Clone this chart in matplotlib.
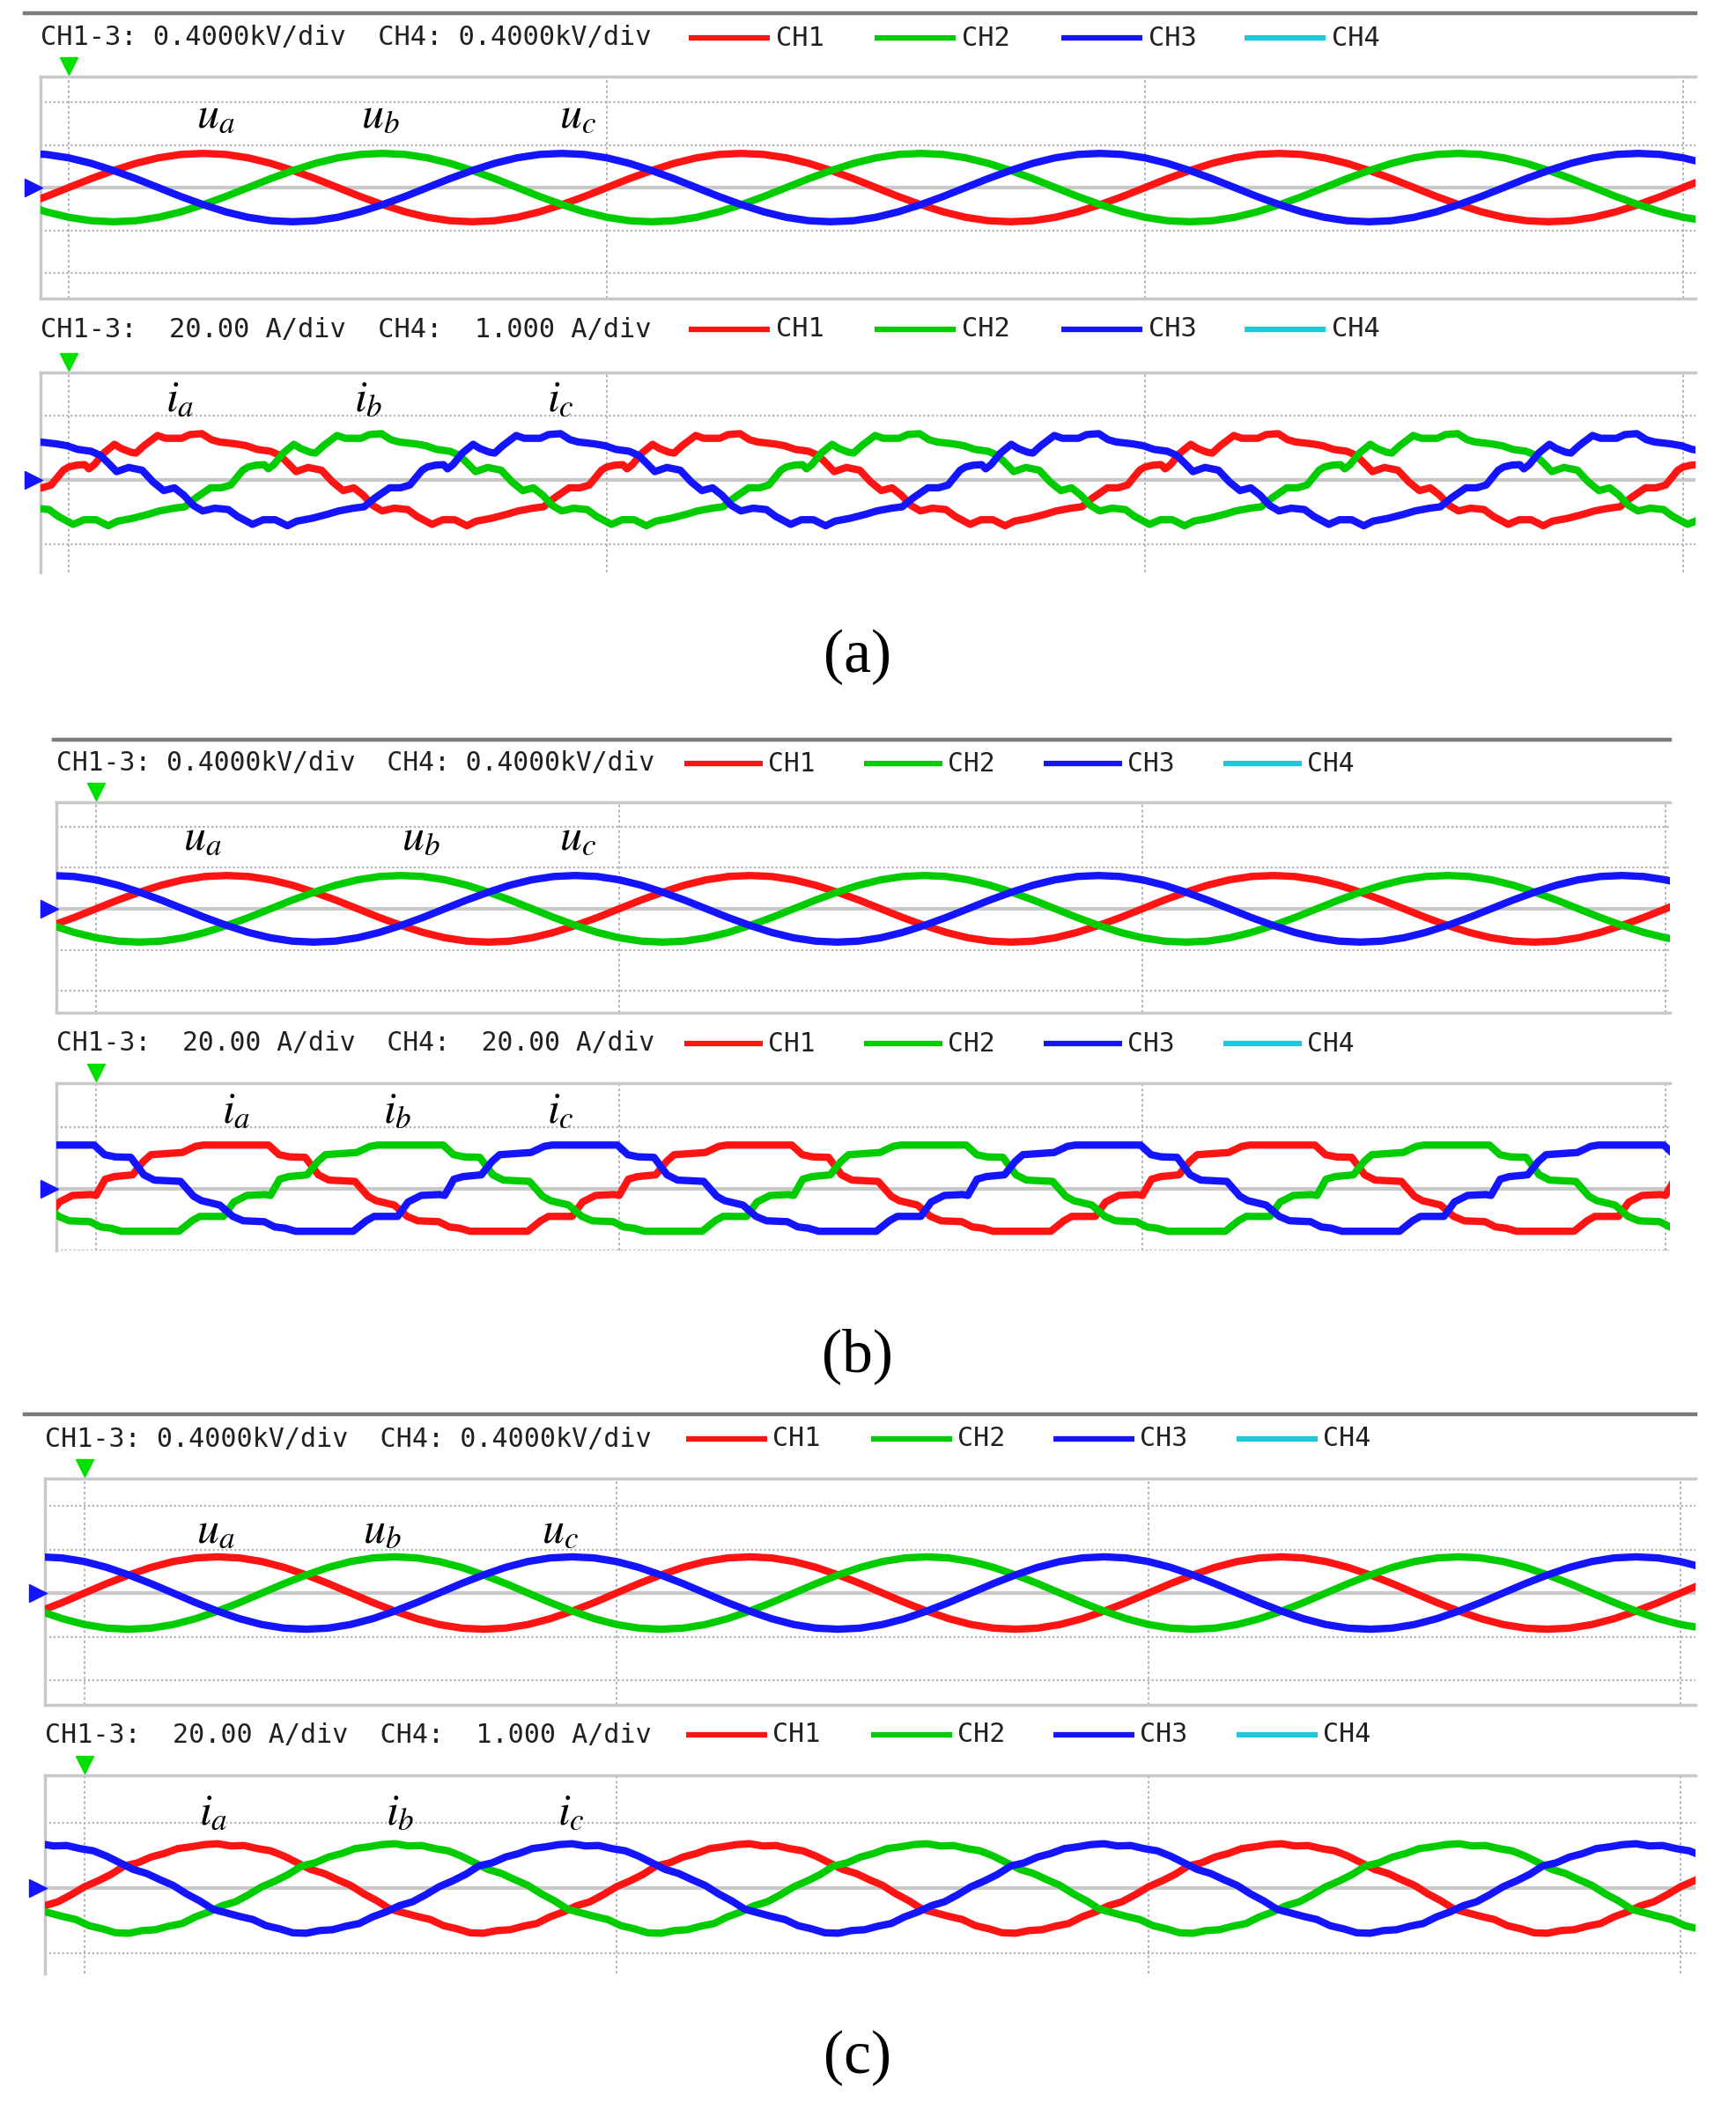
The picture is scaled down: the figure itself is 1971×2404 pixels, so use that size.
import numpy as np
import matplotlib
matplotlib.use("Agg")
import matplotlib.pyplot as plt

W, H = 1971, 2404

period_ms = 20.0
phase_delay = [0.0, 6.67, 13.33]          # a, b, c  (ms)
phase_colors = ['#ff1414', '#00cc00', '#1414ff']
ch4_color = '#20c8dc'

# phase voltage, one period, fraction of its peak
u_t = [0.0, 0.83, 1.67, 2.5, 3.33, 4.17, 5.0, 5.83, 6.67, 7.5, 8.33, 9.17,
       10.0, 10.83, 11.67, 12.5, 13.33, 14.17, 15.0, 15.83, 16.67, 17.5, 18.33, 19.17]
u_v = [0.00, 0.26, 0.50, 0.71, 0.87, 0.97, 1.00, 0.97, 0.87, 0.71, 0.50, 0.26,
       0.00, -0.26, -0.50, -0.71, -0.87, -0.97, -1.00, -0.97, -0.87, -0.71, -0.50, -0.26]
u_amp = [0.80, 0.81, 0.83]                # peak in divisions, screens a, b, c

# phase current (a), one period, fraction of peak
ia_a_t = [0.0, 0.3, 0.6, 0.75, 0.95, 1.3, 1.7, 1.95, 2.3, 2.5, 2.8, 3.3, 3.6, 4.2, 4.5,
          4.95, 5.3, 5.6, 6.2, 6.6, 7.0, 7.5, 7.85, 8.15, 8.45, 8.9, 9.4, 9.8, 10.2, 10.6,
          10.95, 11.3, 11.65, 12.1, 12.6, 12.95, 13.5, 13.9, 14.35, 14.8, 15.15, 15.7,
          16.3, 16.7, 17.25, 17.65, 18.05, 18.6, 19.0, 19.35, 19.8]
ia_a_v = [0.28, 0.32, 0.33, 0.24, 0.33, 0.58, 0.77, 0.68, 0.60, 0.58, 0.74, 0.96, 0.90, 0.90, 0.98,
          1.00, 0.87, 0.82, 0.78, 0.74, 0.66, 0.62, 0.53, 0.36, 0.18, 0.27, 0.21, -0.04, -0.23, -0.17,
          -0.33, -0.55, -0.67, -0.61, -0.64, -0.79, -0.96, -0.86, -0.86, -0.99, -0.89, -0.83,
          -0.74, -0.67, -0.61, -0.58, -0.39, -0.17, -0.17, -0.11, 0.21]

# phase current (b)
ia_b_t = [0.0, 0.35, 0.7, 1.4, 1.8, 2.1, 3.3, 3.8, 4.1, 6.6, 7.0, 7.4, 8.0, 8.5, 8.9, 9.9,
          10.4, 10.7, 11.4, 11.9, 12.3, 13.1, 13.5, 13.9, 14.3, 16.5, 17.0, 17.3, 18.2, 18.6,
          19.1, 19.8]
ia_b_v = [-0.15, 0.22, 0.28, 0.32, 0.62, 0.78, 0.83, 0.97, 1.0, 1.0, 0.78, 0.73, 0.72, 0.32, 0.2, 0.17,
          -0.17, -0.27, -0.37, -0.63, -0.73, -0.75, -0.87, -0.9, -0.97, -0.97, -0.73, -0.63, -0.63, -0.3,
          -0.15, -0.13]

# phase current (c)
ia_c_t = [0.0, 0.5, 1.0, 1.5, 2.0, 2.5, 3.0, 3.5, 4.0, 4.5, 5.0, 5.5, 6.0, 6.5, 7.0, 7.5, 8.0,
          8.5, 9.0, 9.5, 10.0, 10.5, 11.0, 11.5, 12.0, 12.5, 13.0, 13.5, 14.0, 14.5, 15.0, 15.5,
          16.0, 16.5, 17.0, 17.5, 18.0, 18.5, 19.0, 19.5]
ia_c_v = [0.03, 0.16, 0.31, 0.50, 0.57, 0.70, 0.78, 0.89, 0.93, 0.98, 1.00, 0.95, 0.96, 0.89, 0.84,
          0.72, 0.57, 0.42, 0.33, 0.19, 0.06, -0.13, -0.29, -0.48, -0.56, -0.64, -0.71, -0.85,
          -0.92, -1.01, -1.02, -0.96, -0.94, -0.86, -0.80, -0.65, -0.54, -0.40, -0.31, -0.15]
i_amp = [0.72, 0.71, 0.68]

i_shapes = [(ia_a_t, ia_a_v), (ia_b_t, ia_b_v), (ia_c_t, ia_c_v)]

captions = ['(a)', '(b)', '(c)']
u_header = 'CH1-3: 0.4000kV/div  CH4: 0.4000kV/div'
i_headers = ['CH1-3:  20.00 A/div  CH4:  1.000 A/div',
             'CH1-3:  20.00 A/div  CH4:  20.00 A/div',
             'CH1-3:  20.00 A/div  CH4:  1.000 A/div']
legend_names = ['CH1', 'CH2', 'CH3', 'CH4']
u_labels = [r'$u_a$', r'$u_b$', r'$u_c$']
i_labels = [r'$i_a$', r'$i_b$', r'$i_c$']

# ---------------- layout (pixels of the 1971x2404 picture) ----------------
screens = [
    dict(line=(15, 28, 1925), text_x=46, fs=21.9, leg_x=[782, 993, 1205, 1413], leg_len=92, leg_dx=99,
         trig=78, pxms=30.55, x0=46, x1=1925,
         up=dict(hy=43, y0=87, y1=339, c=213, div=48.5),
         lo=dict(hy=374, y0=423, y1=650, c=545, div=73),
         ulab=[(245, 130), (432, 130), (656, 130)], ilab=[(204, 452), (418, 452), (636, 452)],
         cap_y=746),
    dict(line=(840, 61, 1896), text_x=64, fs=21.3, leg_x=[777, 981, 1185, 1389], leg_len=89, leg_dx=95,
         trig=109, pxms=29.7, x0=64, x1=1896,
         up=dict(hy=867, y0=911, y1=1150, c=1032, div=46.7),
         lo=dict(hy=1185, y0=1230, y1=1420, c=1350, div=70),
         ulab=[(230, 950), (478, 950), (656, 950)], ilab=[(268, 1260), (451, 1260), (636, 1260)],
         cap_y=1540),
    dict(line=(1606, 28, 1925), text_x=51, fs=21.6, leg_x=[779, 989, 1196, 1404], leg_len=92, leg_dx=98,
         trig=96, pxms=30.2, x0=51, x1=1925,
         up=dict(hy=1634, y0=1679, y1=1936, c=1809, div=49.5),
         lo=dict(hy=1970, y0=2016, y1=2241, c=2144, div=74),
         ulab=[(245, 1737), (434, 1737), (636, 1737)], ilab=[(242, 2057), (454, 2057), (648, 2057)],
         cap_y=2337),
]

GRID = '#b4b4b4'
FRAME = '#c8c8c8'
MONO = 'DejaVu Sans Mono'
plt.rcParams['mathtext.fontset'] = 'stix'


def periodic(t_pts, v_pts, delay, t_lo, t_hi):
    t_pts = np.asarray(t_pts, dtype=float)
    v_pts = np.asarray(v_pts, dtype=float)
    k0 = int(np.floor((t_lo - delay) / period_ms)) - 1
    k1 = int(np.ceil((t_hi - delay) / period_ms)) + 1
    ks = range(k0, k1 + 1)
    tt = np.concatenate([t_pts + delay + k * period_ms for k in ks])
    vv = np.tile(v_pts, len(ks))
    return tt, vv


def panel(fig, s, p, shape, amp, has_bottom):
    x0, x1 = s['x0'], s['x1']
    y0, y1 = p['y0'], p['y1']
    ax = fig.add_axes([x0 / W, 1 - y1 / H, (x1 - x0) / W, (y1 - y0) / H])
    t_lo = (x0 - s['trig']) / s['pxms']
    t_hi = (x1 - s['trig']) / s['pxms']
    y_top = (p['c'] - y0) / p['div']
    y_bot = -(y1 - p['c']) / p['div']
    ax.set_xlim(t_lo, t_hi)
    ax.set_ylim(y_bot, y_top)
    ax.set_xticks([])
    ax.set_yticks([])
    ax.spines['right'].set_visible(False)
    ax.spines['bottom'].set_visible(has_bottom)
    for side in ['top', 'left', 'bottom']:
        ax.spines[side].set_color(FRAME)
        ax.spines[side].set_linewidth(2.5)

    ax.axhline(0, color=FRAME, lw=3, zorder=1)
    for k in [-2, -1, 1, 2]:
        ax.axhline(k, color=GRID, lw=1.6, ls=(0, (1, 1.2)), zorder=1)
    for tv in [0, 20, 40, 60]:
        ax.axvline(tv, color=GRID, lw=1.4, ls=(0, (1.5, 1.5)), zorder=1)

    for delay, col in zip(phase_delay, phase_colors):
        tt, vv = periodic(shape[0], shape[1], delay, t_lo, t_hi)
        ax.plot(tt, amp * vv, color=col, lw=6.0, zorder=3)

    # channel ground marker and trigger marker
    ax.plot([t_lo - 8 / s['pxms']], [0], marker='>', ms=15, color='#1414ff',
            clip_on=False, zorder=5)
    ax.plot([0], [y_top + 12 / p['div']], marker='v', ms=15, color='#00e000',
            clip_on=False, zorder=5)
    return ax


fig = plt.figure(figsize=(W / 100, H / 100), dpi=100)

for i, s in enumerate(screens):
    panel(fig, s, s['up'], (u_t, u_v), u_amp[i], True)
    panel(fig, s, s['lo'], i_shapes[i], i_amp[i], False)

# overlay in picture pixels for headers, legends, labels and captions
ov = fig.add_axes([0, 0, 1, 1], facecolor='none')
ov.set_xlim(0, W)
ov.set_ylim(H, 0)
ov.axis('off')

for i, s in enumerate(screens):
    ly, lx0, lx1 = s['line']
    ov.plot([lx0, lx1], [ly, ly], color='#7a7a7a', lw=3.2)
    for p, head in [(s['up'], u_header), (s['lo'], i_headers[i])]:
        ov.text(s['text_x'], p['hy'], head, family=MONO, fontsize=s['fs'],
                color='#202020', ha='left', va='center')
        for lx, name, col in zip(s['leg_x'], legend_names, phase_colors + [ch4_color]):
            ov.plot([lx, lx + s['leg_len']], [p['hy'], p['hy']], color=col, lw=4.5,
                    solid_capstyle='butt')
            ov.text(lx + s['leg_dx'], p['hy'], name, family=MONO, fontsize=s['fs'],
                    color='#202020', ha='left', va='center')
    for (x, y), lab in zip(s['ulab'], u_labels):
        ov.text(x, y, lab, fontsize=36, ha='center', va='center', color='black')
    for (x, y), lab in zip(s['ilab'], i_labels):
        ov.text(x, y, lab, fontsize=36, ha='center', va='center', color='black')
    ov.text(973, s['cap_y'], captions[i], family='Liberation Serif', fontsize=50,
            ha='center', va='center', color='black')

fig.savefig('out.png', dpi=100)
